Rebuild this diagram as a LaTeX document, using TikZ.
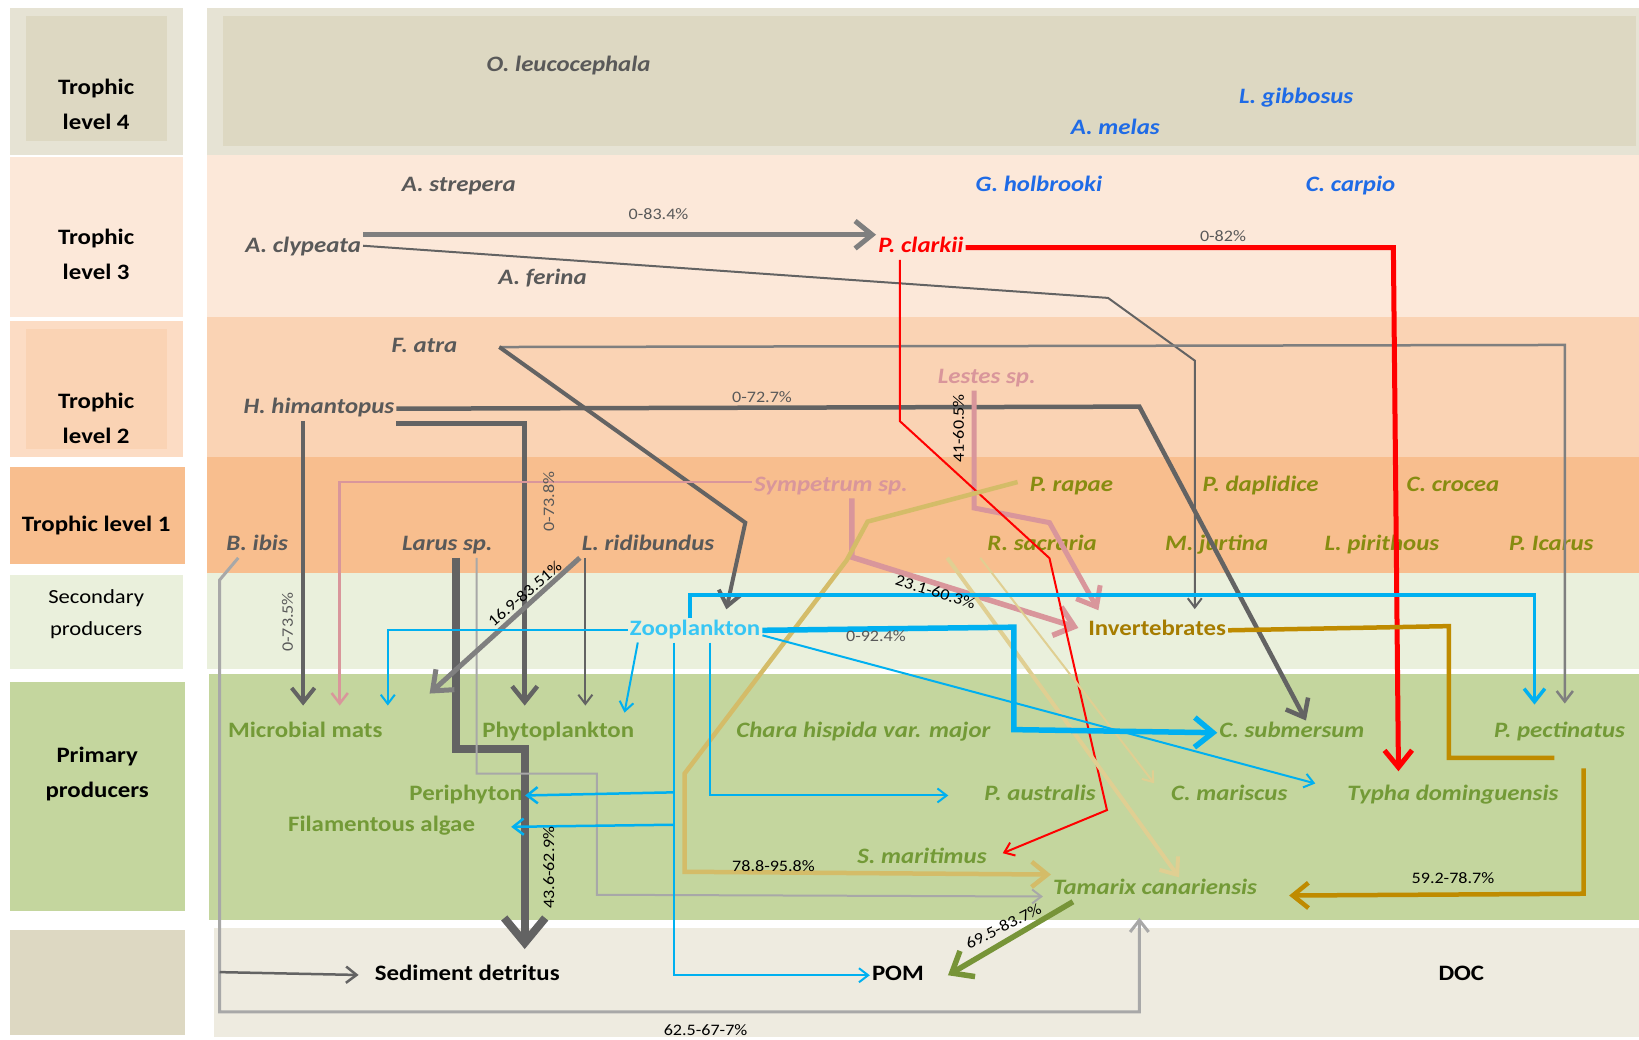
\documentclass[tikz,border=0pt]{standalone}
\usepackage{fontspec}
\setmainfont{Carlito}[FakeStretch=1.13]
\usetikzlibrary{arrows.meta,positioning,calc}
\definecolor{ink}{HTML}{000000}
\definecolor{txtgray}{HTML}{595959}
\definecolor{fishblue}{HTML}{1F6BE6}
\definecolor{crabred}{HTML}{FF0000}
\definecolor{odopink}{HTML}{D9969B}
\definecolor{butolive}{HTML}{878C10}
\definecolor{plantgreen}{HTML}{739A37}
\definecolor{zoocyan}{HTML}{00B0F0}
\definecolor{zootext}{HTML}{38C6F4}
\definecolor{invbrown}{HTML}{A67C00}
\definecolor{invline}{HTML}{BF8B00}
\definecolor{gold}{HTML}{D4BC68}
\definecolor{palegold}{HTML}{E0CF92}
\definecolor{steel}{HTML}{636363}
\definecolor{steelmid}{HTML}{7F7F7F}
\definecolor{steellight}{HTML}{A8A8A8}
\definecolor{pomgreen}{HTML}{779438}
\definecolor{tlfour}{HTML}{DDD8C2}
\definecolor{tlfourout}{HTML}{E6E3D4}
\definecolor{tlthree}{HTML}{FCE8D9}
\definecolor{tltwo}{HTML}{FAD3B4}
\definecolor{tltwoout}{HTML}{FCDCC4}
\definecolor{tlone}{HTML}{F8BE8E}
\definecolor{secfill}{HTML}{EAF0DC}
\definecolor{primfill}{HTML}{C4D69E}
\definecolor{botfill}{HTML}{EEEBE0}
\tikzset{
  every node/.style={inner sep=2pt},
  lvl/.style={font=\fontsize{22}{35}\selectfont\bfseries, text=ink, align=center},
  sp/.style={font=\fontsize{22}{26}\selectfont\bfseries\itshape, text=txtgray, text height=15pt, text depth=5pt},
  fish/.style={sp, text=fishblue},
  crab/.style={sp, text=crabred},
  odo/.style={sp, text=odopink},
  but/.style={sp, text=butolive},
  plant/.style={sp, text=plantgreen},
  prim/.style={sp, font=\fontsize{22}{26}\selectfont\bfseries, text=plantgreen},
  pool/.style={prim, text=ink},
  pct/.style={font=\fontsize{16}{18}\selectfont, text=txtgray, inner sep=1pt},
  pctb/.style={pct, text=ink},
  flow/.style={-{Straight Barb[length=4pt 2.6,width=5pt 4.5]}, line join=miter},
  steelflow/.style={flow, draw=steel},
  lightflow/.style={flow, draw=steellight},
  redflow/.style={flow, draw=crabred},
  pinkflow/.style={flow, draw=odopink},
  cyanflow/.style={flow, draw=zoocyan},
  goldflow/.style={flow, draw=gold},
  brownflow/.style={flow, draw=invline},
}
\begin{document}
\begin{tikzpicture}[x=1.0453pt, y=-1.0453pt]
\useasboundingbox (0,0) rectangle (1568,994);
\fill[white] (0,0) rectangle (1568,994);
\fill[tlfourout] (10,8) rectangle (175,148); \fill[tlfour] (25,15) rectangle (160,135);
\fill[tlthree] (10,150) rectangle (175,303);
\fill[tltwoout] (10,307) rectangle (175,437); \fill[tltwo] (25,315) rectangle (160,430);
\fill[tlone] (10,447) rectangle (177,540);
\fill[secfill] (10,550) rectangle (175,640);
\fill[primfill] (10,652) rectangle (177,872);
\fill[tlfour] (10,890) rectangle (177,990);
\fill[tlfourout] (198,8) rectangle (1568,148); \fill[tlfour] (213,15) rectangle (1565,140);
\fill[tlthree] (198,148) rectangle (1568,303);
\fill[tltwo] (198,303) rectangle (1568,437);
\fill[tlone] (198,437) rectangle (1568,548);
\fill[secfill] (198,548) rectangle (1568,640);
\fill[primfill] (200,645) rectangle (1568,880);
\fill[botfill] (205,888) rectangle (1568,992);

\node[lvl] (lv4) at (92,100) {Trophic\\level 4};
\node[lvl] (lv3) at (92,243) {Trophic\\level 3};
\node[lvl] (lv2) at (92,400) {Trophic\\level 2};
\node[lvl] (lv1) at (92,503) {Trophic level 1};
\node[lvl, font=\fontsize{20}{32}\selectfont] (lvs) at (92,588) {Secondary\\producers};
\node[lvl] (lvp) at (93,740) {Primary\\producers};

\node[sp] (ole) at (544,64) {O. leucocephala};
\node[fish] (lgi) at (1240,94) {L. gibbosus};
\node[fish] (ame) at (1067,124) {A. melas};
\node[sp] (ast) at (439,178) {A. strepera};
\node[fish] (gho) at (994,178) {G. holbrooki};
\node[fish] (cca) at (1292,178) {C. carpio};
\node[sp] (acl) at (290,237) {A. clypeata};
\node[crab] (pcl) at (881,237) {P. clarkii};
\node[sp] (afe) at (519,267) {A. ferina};
\node[sp] (fat) at (406,332) {F. atra};
\node[odo] (les) at (944,362) {Lestes sp.};
\node[sp] (hhi) at (305,391) {H. himantopus};
\node[odo] (sym) at (795,465) {Sympetrum sp.};
\node[but] (pra) at (1025,465) {P. rapae};
\node[but] (pda) at (1206,465) {P. daplidice};
\node[but] (ccr) at (1390,465) {C. crocea};
\node[sp] (bib) at (246,522) {B. ibis};
\node[sp] (lar) at (428,522) {Larus sp.};
\node[sp] (lri) at (620,522) {L. ridibundus};
\node[but] (rsa) at (997,522) {R. sacraria};
\node[but] (mju) at (1164,522) {M. jurtina};
\node[but] (lpi) at (1322,522) {L. pirithous};
\node[but] (pic) at (1484,522) {P. Icarus};
\node[prim, text=zootext] (zoo) at (665,603) {Zooplankton};
\node[prim, text=invbrown] (inv) at (1107,603) {Invertebrates};
\node[prim] (mic) at (292,701) {Microbial mats};
\node[prim] (phy) at (534,701) {Phytoplankton};
\node[plant] (cha) at (826,701) {Chara hispida var. major};
\node[plant] (csu) at (1236,701) {C. submersum};
\node[plant] (ppe) at (1492,701) {P. pectinatus};
\node[prim] (per) at (446,761) {Periphyton};
\node[plant] (pau) at (995,761) {P. australis};
\node[plant] (cma) at (1176,761) {C. mariscus};
\node[plant] (typ) at (1390,761) {Typha dominguensis};
\node[prim] (fil) at (365,791) {Filamentous algae};
\node[plant] (sma) at (882,821) {S. maritimus};
\node[plant] (tam) at (1105,851) {Tamarix canariensis};
\node[pool] (sed) at (447,933) {Sediment detritus};
\node[pool] (pom) at (859,933) {POM};
\node[pool] (doc) at (1398,933) {DOC};

\draw[flow, draw=steelmid, line width=5pt] ([yshift=13pt]acl.east) -- ([yshift=13pt]pcl.west);
\draw[steelflow, line width=2pt, shorten >=9pt] ([yshift=2pt]acl.east) -- (1060,285) -- (1143,345) -- (inv.north -| 1143,0);
\draw[lightflow, draw=steelmid, line width=2.5pt, shorten >=17pt] ([xshift=40pt]fat.east) -- (1497,330) -- (ppe.north -| 1497,0);
\draw[steelflow, line width=4pt, shorten >=9pt] ([xshift=40pt]fat.east) -- (713,500) -- (zoo.north -| 693,0);
\draw[steelflow, line width=4.5pt] (hhi.east) -- (1090,389) -- ([xshift=14pt]csu.north);
\draw[steelflow, line width=4.5pt, shorten >=15pt] ([yshift=-15pt]hhi.east) -| (phy.north -| 502,0);
\draw[steelflow, line width=4pt, shorten >=15pt] (hhi.south -| 290,0) -- (mic.north -| 290,0);
\draw[steelflow, line width=8pt, shorten >=14pt] (lar.south -| 436,0) -- (436,717) -- (502,717) -- (sed.north -| 502,0);
\draw[lightflow, line width=2pt, shorten >=8pt] (lar.south -| 456,0) -- (456,740) -- (571,740) -- (571,856) -- ([yshift=-7pt]tam.west);
\draw[steelflow, draw=steelmid, line width=5pt] (lri.south west) -- ([xshift=45pt,yshift=27pt]mic.north east);
\draw[steelflow, line width=2pt, shorten >=15pt] (lri.south west -| 560,0) -- (phy.north -| 560,0);
\draw[lightflow, line width=3pt, shorten >=16pt] ([xshift=14pt]bib.south west) -- (210,555) -- (210,930) coordinate (bsp) -- (210,968) -- (1090,968) -- (tam.south -| 1090,0);
\draw[steelflow, line width=2.5pt, shorten >=14pt] (bsp) -- (sed.west);

\draw[pinkflow, line width=2.5pt, shorten >=15pt] ([yshift=4pt]sym.west) -| (mic.north -| 325,0);
\draw[pinkflow, line width=5.5pt, shorten >=8pt] (sym.south -| 815,0) -- (815,533) -- (inv.west);
\draw[pinkflow, line width=5pt, shorten >=9pt] (les.south -| 932,0) -- (932,486) -- (1004,500) -- (inv.north -| 1055,0);
\draw[redflow, line width=2pt] (pcl.south -| 861,0) -- (861,403) -- (1004,534) -- (1059,775) -- ([xshift=14pt,yshift=5pt]sma.east);
\draw[redflow, line width=5pt, shorten >=12pt] (pcl.east) -- (1333,237) -- (typ.north -| 1338,0);

\draw[goldflow, line width=4.5pt] ([xshift=-10pt,yshift=4pt]pra.west) -- (830,499) -- (810,536) -- (655,740) -- (655,834) -- ([yshift=15pt]tam.west);
\draw[goldflow, draw=palegold, line width=4pt] ([xshift=-38pt]rsa.south west) -- ([xshift=24pt]tam.north);
\draw[goldflow, draw=palegold, line width=2pt] ([xshift=-5pt]rsa.south west) -- ([xshift=-15pt]cma.north west);

\draw[cyanflow, line width=2pt, shorten >=15pt] (zoo.west) -| (mic.north -| 371,0);
\draw[cyanflow, line width=2pt, shorten >=8pt] ([xshift=10pt]zoo.south west) -- (phy.north -| 596,0);
\draw[cyanflow, line width=3.5pt, shorten >=16pt] ([xshift=62pt]zoo.north west) |- (1468,569) -- (ppe.north -| 1468,0);
\draw[cyanflow, line width=5.5pt] (zoo.east) -- (970,600) -- (970,698) -- (csu.west);
\draw[cyanflow, line width=2pt] ([yshift=-5pt]zoo.east) -- ([xshift=-30pt,yshift=12pt]typ.west);
\draw[cyanflow, line width=2pt, shorten >=34pt] ([xshift=15pt]zoo.south) |- (pau.west);
\draw[cyanflow, line width=2pt] (zoo.south -| 645,0) -- (645,758) coordinate (zpa) -- (645,789) coordinate (zpb) |- (pom.west);
\draw[cyanflow, line width=2.5pt] (zpa) -- (per.east);
\draw[cyanflow, line width=2.5pt] (zpb) -- ([xshift=34pt]fil.east);

\draw[brownflow, line width=4.5pt] (inv.east) -- (1386,599) -- (1386,725) -- (1487,725) (1515,735) -- (1515,855) -- ([xshift=30pt,yshift=-6pt]tam.east);
\draw[flow, draw=pomgreen, line width=5.5pt] ([xshift=22pt]tam.south west) -- ([xshift=22pt]pom.east);

\node[pct] (p834) at (630,205) {0-83.4\%};
\node[pct] (p82) at (1170,226) {0-82\%};
\node[pct] (p727) at (729,380) {0-72.7\%};
\node[pct, rotate=90] (p738) at (525,480) {0-73.8\%};
\node[pct, rotate=90] (p735) at (275,595) {0-73.5\%};
\node[pctb, rotate=41] (p169) at (502,568) {16.9-83.51\%};
\node[pctb, rotate=90] (p41) at (917,410) {41-60.5\%};
\node[pctb, rotate=-17] (p231) at (895,566) {23.1-60.3\%};
\node[pct] (p924) at (838,609) {0-92.4\%};
\node[pctb] (p788) at (740,829) {78.8-95.8\%};
\node[pctb, rotate=90] (p436) at (525,830) {43.6-62.9\%};
\node[pctb, rotate=27] (p695) at (960,886) {69.5-83.7\%};
\node[pctb] (p592) at (1390,840) {59.2-78.7\%};
\node[pctb] (p625) at (675,985) {62.5-67-7\%};
\end{tikzpicture}
\end{document}
